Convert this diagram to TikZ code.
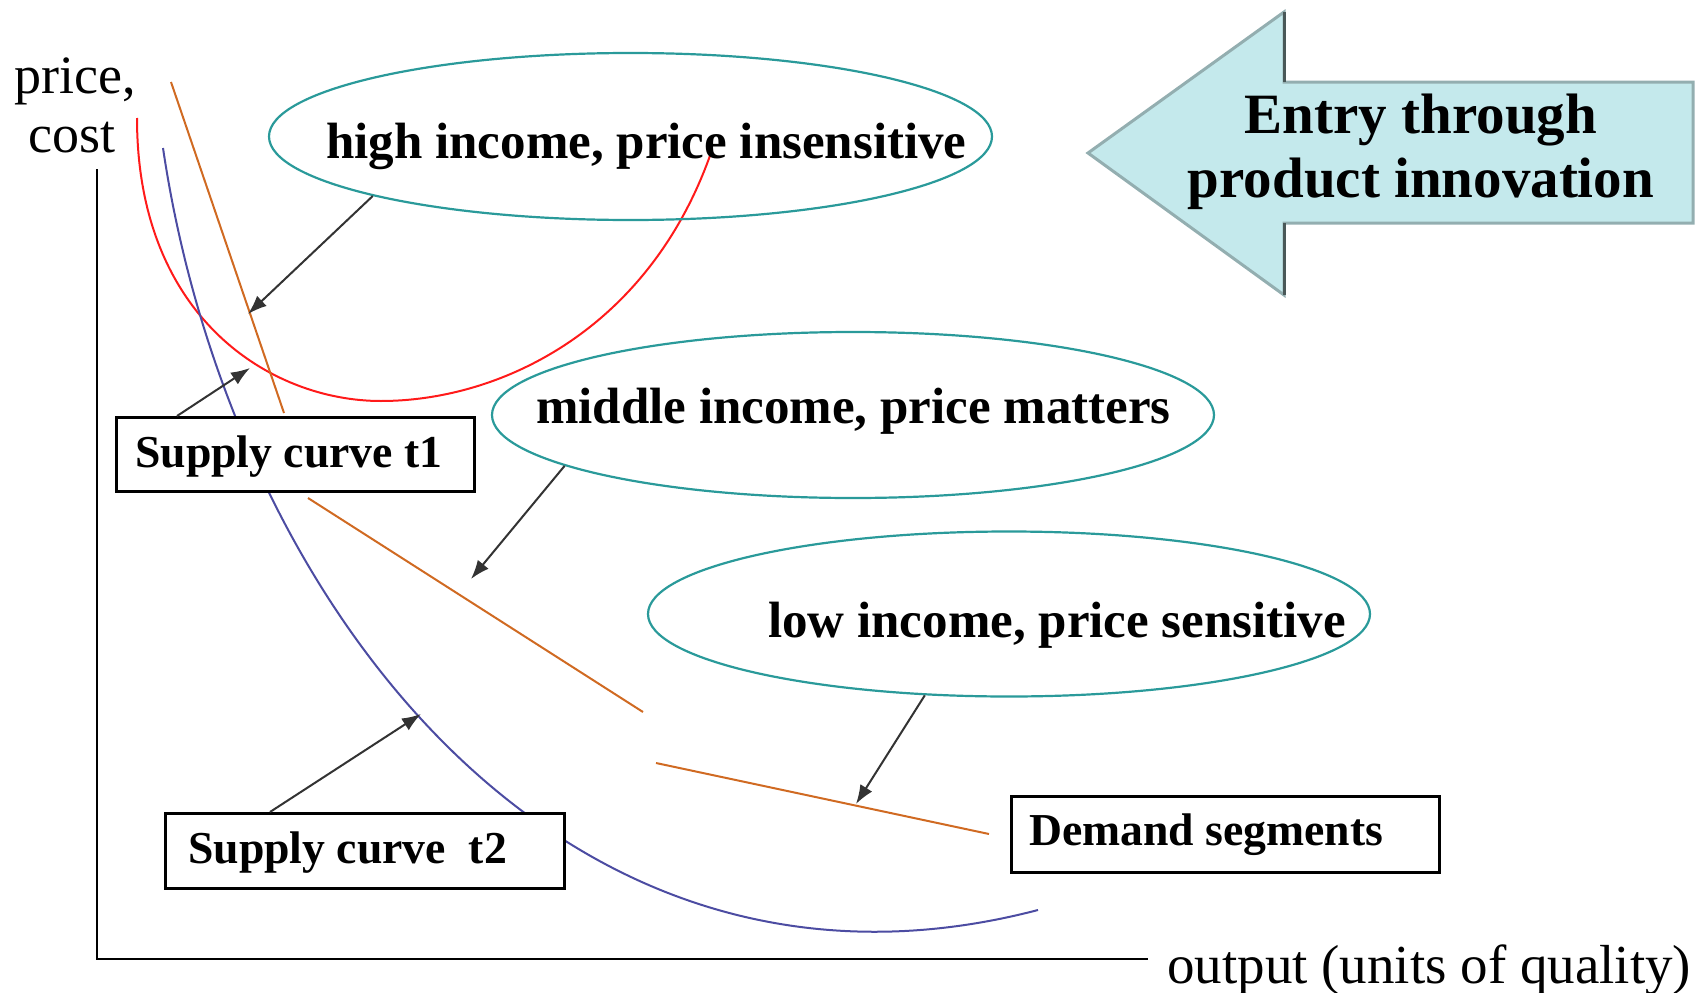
\documentclass[tikz,border=0pt]{standalone}
\usepackage{fontspec}
\setmainfont{Liberation Serif}
\usetikzlibrary{arrows.meta,shapes.geometric,calc}

\definecolor{segteal}{HTML}{2A9A9A}
\definecolor{demandorange}{HTML}{D06A22}
\definecolor{supplyblue}{HTML}{4C4CA2}
\definecolor{costred}{HTML}{FF1A1A}
\definecolor{entryfill}{HTML}{C4E9EC}
\definecolor{entryedge}{HTML}{93AEB0}
\definecolor{entryshade}{HTML}{4A5858}
\definecolor{pointer}{HTML}{333333}

\tikzset{
  axisline/.style={line width=2.8pt, black},
  segment/.style={ellipse, draw=segteal, line width=2.2pt, inner sep=0pt},
  seglabel/.style={anchor=base west, inner sep=0pt, font=\fontsize{51}{60}\selectfont\bfseries},
  labelbox/.style={draw=black, line width=3pt, fill=white, anchor=north west, inner sep=0pt},
  boxtext/.style={anchor=base west, inner sep=0pt, font=\fontsize{45.7}{54}\selectfont\bfseries},
  axistext/.style={anchor=base west, inner sep=0pt, font=\fontsize{54}{62}\selectfont},
  entrytext/.style={anchor=base, inner sep=0pt, font=\fontsize{57}{66}\selectfont\bfseries},
  demandline/.style={demandorange, line width=2pt},
  pointerarrow/.style={pointer, line width=2pt, -{Latex[length=19pt,width=14pt]}},
}

\begin{document}
\begin{tikzpicture}[x=1pt, y=-1pt]
\useasboundingbox (0,0) rectangle (1698,993);

% axes
\coordinate (ytop) at (97,169);
\coordinate (origin) at (97,959);
\coordinate (xend) at (1148,959);
\draw[axisline] (ytop) -- (origin) -- (xend);
\node[axistext] (ylab1) at (14,93) {price,};
\node[axistext] (ylab2) at (28,152) {cost};
\node[axistext, font=\fontsize{55}{62}\selectfont] (xlab) at (1167,983) {output (units of quality)};

% cost curve
\draw[costred, line width=2pt]
  (137,118) .. controls (137,318) and (271,401) .. (381,401)
            .. controls (500,401) and (650,330) .. (712,150);

% supply curve t2
\draw[supplyblue, line width=2pt]
  (163,148) .. controls (230,600) and (560,1035) .. (1038,910);

% demand segments
\coordinate (d1a) at (171,82);
\coordinate (d1b) at (284,413);
\coordinate (d2a) at (308,498);
\coordinate (d2b) at (643,712);
\coordinate (d3a) at (656,763);
\coordinate (d3b) at (989,834);
\draw[demandline] (d1a) -- (d1b);
\draw[demandline] (d2a) -- (d2b);
\draw[demandline] (d3a) -- (d3b);

% income segments
\node[segment, minimum width=723pt, minimum height=167pt] (e1) at (630.5,136.5) {};
\node[segment, minimum width=722pt, minimum height=166pt] (e2) at (853,415) {};
\node[segment, minimum width=722pt, minimum height=165pt] (e3) at (1009,614) {};
\node[seglabel] (t1) at (326,158) {high income, price insensitive};
\node[seglabel] (t2) at (536,423) {middle income, price matters};
\node[seglabel] (t3) at (768,637) {low income, price sensitive};

% label boxes
\node[labelbox, minimum width=358pt, minimum height=74pt] (s1) at (115,416) {};
\node[boxtext] (s1t) at (135,467) {Supply curve t1};
\node[labelbox, minimum width=399pt, minimum height=75pt] (s2) at (164,812) {};
\node[boxtext] (s2t) at (188,863) {Supply curve\ \ t2};
\node[labelbox, minimum width=428pt, minimum height=76pt] (ds) at (1010,795) {};
\node[boxtext] (dst) at (1029,845) {Demand segments};

% pointers
\coordinate (p1) at (248,314);
\coordinate (p2) at (250,368);
\coordinate (p3) at (471,579);
\coordinate (p4) at (421,714);
\coordinate (p5) at (856,804);
\draw[pointerarrow] (e1.193) -- (p1);
\draw[pointerarrow] ([xshift=62pt]s1.north west) -- (p2);
\draw[pointerarrow] (e2.190) -- (p3);
\draw[pointerarrow] ([xshift=106pt]s2.north west) -- (p4);
\draw[pointerarrow] (e3.224) -- (p5);

% entry arrow
\coordinate (en1) at (1088,153);
\coordinate (en2) at (1284,12);
\coordinate (en3) at (1284,82);
\coordinate (en4) at (1693,82);
\coordinate (en5) at (1693,223);
\coordinate (en6) at (1284,223);
\coordinate (en7) at (1284,295);
\draw[fill=entryfill, draw=entryedge, line width=3pt, line join=miter]
  (en1) -- (en2) -- (en3) -- (en4) -- (en5) -- (en6) -- (en7) -- cycle;
\draw[entryshade, line width=3pt] (en2) -- (en3);
\draw[entryshade, line width=3pt] (en6) -- (en7);
\node[entrytext] (entry1) at (1421,133) {Entry through};
\node[entrytext] (entry2) at (1421,197) {product innovation};
\end{tikzpicture}
\end{document}
